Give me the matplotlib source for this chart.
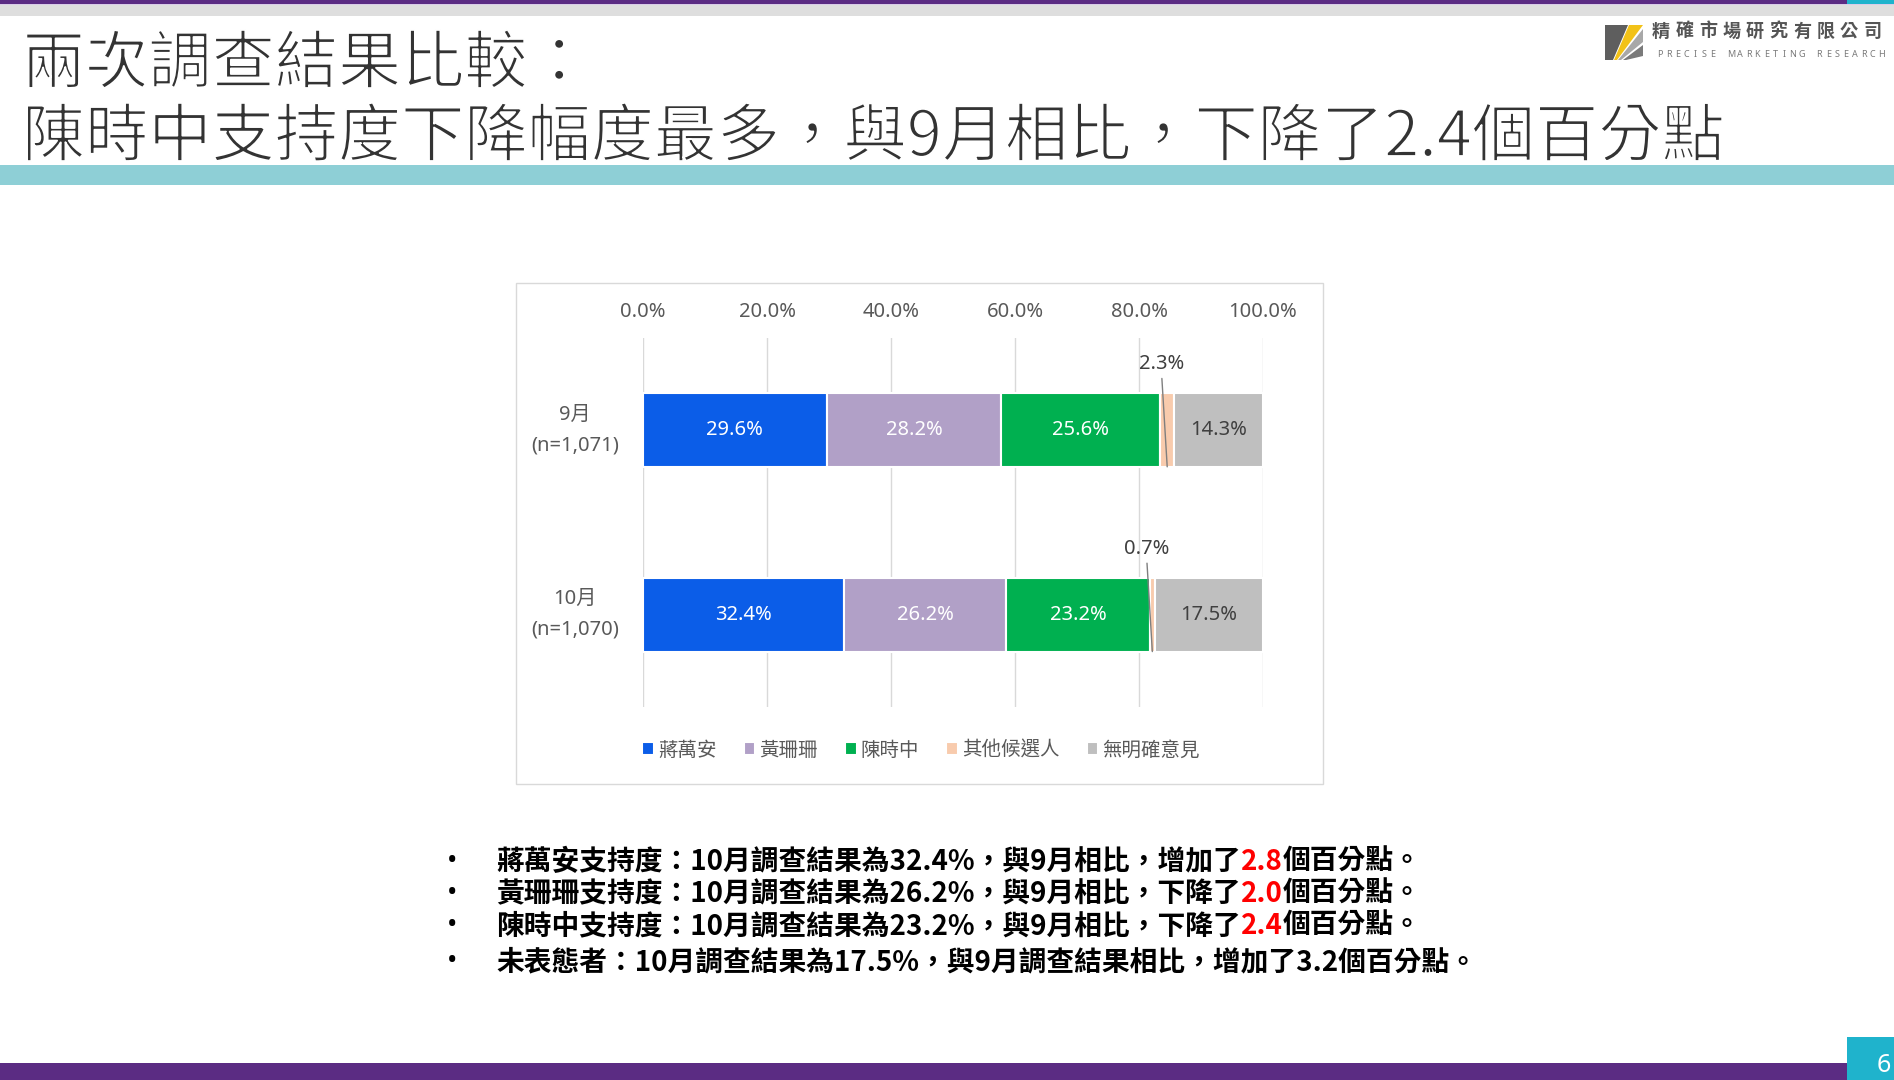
import numpy as np
import matplotlib.pyplot as plt
from matplotlib.patches import Rectangle, Polygon
from matplotlib import patheffects

# 資料
candidates = ['蔣萬安', '黃珊珊', '陳時中', '其他候選人', '無明確意見']
colors = ['#0B5DE8', '#B1A0C7', '#00B050', '#F8CBAD', '#BFBFBF']
label_colors = ['white', 'white', 'white', '#404040', '#404040']
months = ['9月\n(n=1,071)', '10月\n(n=1,070)']
sept = [29.6, 28.2, 25.6, 2.3, 14.3]
octo = [32.4, 26.2, 23.2, 0.7, 17.5]
ticks = [0, 20, 40, 60, 80, 100]
tick_labels = ['0.0%', '20.0%', '40.0%', '60.0%', '80.0%', '100.0%']

title1 = '兩次調查結果比較：'
title2 = '陳時中支持度下降幅度最多，與9月相比，下降了2.4個百分點'
bullets = [
    [('蔣萬安支持度：10月調查結果為32.4%，與9月相比，增加了', 'black'), ('2.8', '#FF0000'), ('個百分點。', 'black')],
    [('黃珊珊支持度：10月調查結果為26.2%，與9月相比，下降了', 'black'), ('2.0', '#FF0000'), ('個百分點。', 'black')],
    [('陳時中支持度：10月調查結果為23.2%，與9月相比，下降了', 'black'), ('2.4', '#FF0000'), ('個百分點。', 'black')],
    [('未表態者：10月調查結果為17.5%，與9月調查結果相比，增加了3.2個百分點。', 'black')],
]
logo_name = '精確市場研究有限公司'
logo_en = 'PRECISE MARKETING RESEARCH'

LATIN = ['Noto Sans', 'Noto Sans CJK TC', 'DejaVu Sans']
CJK = ['Noto Sans CJK TC', 'DejaVu Sans']
plt.rcParams['font.family'] = LATIN

W, H = 1894, 1080
fig = plt.figure(figsize=(W / 100, H / 100), dpi=100)


def fx(x):
    return x / W


def fy(y):
    return 1 - y / H


def band(x0, y0, x1, y1, color):
    fig.add_artist(Rectangle((fx(x0), fy(y1)), (x1 - x0) / W, (y1 - y0) / H,
                             transform=fig.transFigure, color=color, lw=0))


# 頁面裝飾
band(0, 0, 1847, 4, '#5B2C83')
band(1847, 0, W, 5, '#1FB3CC')
band(0, 4, W, 5, '#D9CCE8')
band(0, 5, W, 16, '#DEDEDE')
band(0, 165, W, 185, '#8ECFD6')
band(0, 1063, 1847, H, '#5B2C83')
band(1847, 1037, W, H, '#1FB3CC')
fig.text(fx(1884), fy(1066), '6', color='white', fontsize=18, ha='center', va='center')

# 標題 (細字效果: 白色描邊讓筆畫變細)
thin = [patheffects.Normal(), patheffects.Stroke(linewidth=1.3, foreground='white')]
for y, t in [(65, title1), (138, title2)]:
    fig.text(fx(22), fy(y), t, fontsize=45.5, color='#333333', family=CJK,
             ha='left', va='center', path_effects=thin)

# 標誌
icon = [
    ([(1605, 25), (1628, 25), (1613, 60), (1605, 60)], '#5E5E5E'),
    ([(1629, 25), (1643, 25), (1617, 60), (1614, 60)], '#F2C218'),
    ([(1643, 29), (1643, 42), (1621, 60), (1618, 60)], '#A8A8A8'),
    ([(1643, 45), (1643, 56), (1626, 60), (1623, 60)], '#7A7A7A'),
]
for pts, c in icon:
    fig.add_artist(Polygon([(fx(a), fy(b)) for a, b in pts], closed=True,
                           transform=fig.transFigure, color=c, lw=0))
for i, ch in enumerate(logo_name):
    fig.text(fx(1661 + i * 23.5), fy(31), ch, fontsize=13, weight='bold', color='#555555',
             family=CJK, ha='center', va='center')
for i, ch in enumerate(logo_en):
    fig.text(fx(1660 + i * 8.85), fy(54.5), ch, fontsize=6.5, color='#7A7A7A',
             ha='center', va='center')

# 圖表外框
fig.add_artist(Rectangle((fx(516), fy(784)), (1323 - 516) / W, (784 - 283) / H,
                         transform=fig.transFigure, fill=False, edgecolor='#D9D9D9', lw=1))

ax = fig.add_axes([fx(643), fy(707), (1263 - 643) / W, (707 - 337.5) / H])
data = np.array([sept, octo])
lefts = np.cumsum(data, axis=1) - data
for j, name in enumerate(candidates):
    ax.barh([0, 1], data[:, j], left=lefts[:, j], height=0.4, color=colors[j],
            edgecolor='white', linewidth=1.5, label=name)
    for i in range(2):
        v = data[i, j]
        cx = lefts[i, j] + v / 2
        if v >= 5:
            ax.text(cx, i, f'{v:.1f}%', ha='center', va='center', fontsize=14.5,
                    color=label_colors[j])
        else:
            ax.annotate(f'{v:.1f}%', xy=(cx, i + 0.2), xytext=(cx - 0.9, i - 0.355),
                        textcoords='data', ha='center', va='center', fontsize=14.5,
                        color='#404040',
                        arrowprops=dict(arrowstyle='-', color='#7F7F7F', lw=1,
                                        relpos=(0.5, 0), shrinkA=1, shrinkB=0))

ax.set_xlim(0, 100)
ax.set_ylim(1.5, -0.5)
ax.set_xticks(ticks)
ax.set_xticklabels(tick_labels, fontsize=14.5, color='#595959')
ax.xaxis.tick_top()
ax.set_yticks([0, 1])
ax.set_yticklabels(months, fontsize=14.5, color='#595959', ha='center', va='center',
                   linespacing=1.7)
ax.tick_params(axis='x', length=0, pad=11)
ax.tick_params(axis='y', length=0, pad=49)
ax.grid(axis='x', color='#D9D9D9', lw=1)
ax.set_axisbelow(True)
for s in ax.spines.values():
    s.set_visible(False)

handles, labels = ax.get_legend_handles_labels()
fig.legend(handles, labels, loc='center', bbox_to_anchor=(fx(921), fy(750)), ncol=5,
           frameon=False, prop={'family': CJK, 'size': 14}, handlelength=0.6,
           handleheight=0.6, handletextpad=0.2, columnspacing=1.4, labelcolor='#595959')

# 下方說明文字
renderer = fig.canvas.get_renderer()
for y, parts in zip([862, 894, 926, 962], bullets):
    fig.text(fx(452), fy(y), '•', fontsize=20, weight='bold', color='black',
             ha='center', va='center')
    x = 496
    for s, c in parts:
        t = fig.text(fx(x), fy(y), s, fontsize=20, weight='bold', color=c, family=CJK,
                     ha='left', va='center')
        x = t.get_window_extent(renderer).x1

fig.savefig('out.png', dpi=100)
